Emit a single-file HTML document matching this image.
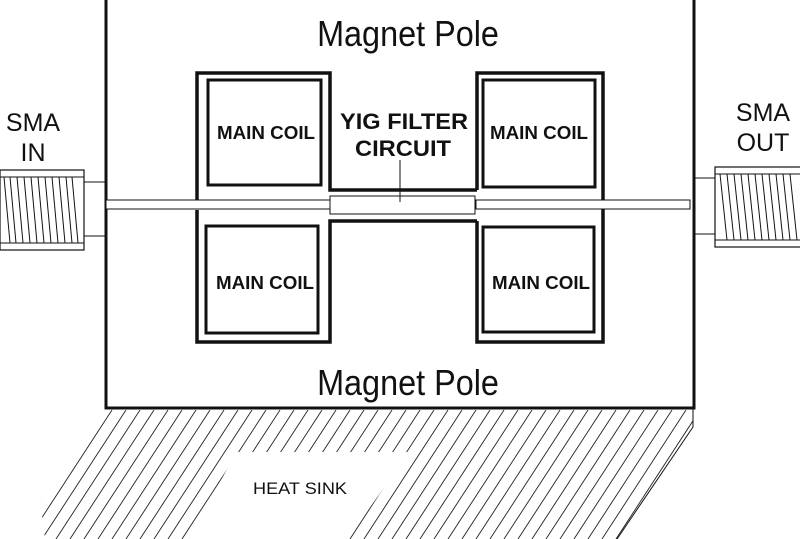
<!DOCTYPE html>
<html><head><meta charset="utf-8"><style>
html,body{margin:0;padding:0;background:#fff}
svg{display:block}
text{font-family:"Liberation Sans",sans-serif;fill:#111}
</style></head><body>
<svg width="800" height="539" viewBox="0 0 800 539" xmlns="http://www.w3.org/2000/svg">
<defs>
<clipPath id="hc"><polygon points="106,410 693,410 693,427 617,539 45,539 40,500"/></clipPath>
</defs>
<g stroke="#111" fill="none">
<polyline points="106,0 106,408 694,408 694,0" stroke-width="3"/>
<polyline points="197,200 197,73 330,73 330,190 477,190" stroke-width="3.5"/>
<polyline points="197,210 197,342 330,342 330,221 477,221" stroke-width="3.5"/>
<polyline points="477,190 477,73 603,73 603,200" stroke-width="3.5"/>
<polyline points="477,221 477,342 603,342 603,209" stroke-width="3.5"/>
<rect x="208" y="80" width="113" height="105" stroke-width="3"/>
<rect x="206" y="226" width="112" height="107" stroke-width="3"/>
<rect x="483" y="80" width="112" height="107" stroke-width="3"/>
<rect x="483" y="227" width="111" height="105" stroke-width="3"/>
<rect x="106" y="200" width="224" height="9" stroke-width="1" fill="#fff"/>
<rect x="330" y="196" width="145" height="18" stroke-width="1" fill="#fff"/>
<rect x="476" y="200" width="214" height="9" stroke-width="1" fill="#fff"/>
<line x1="400" y1="160" x2="400" y2="202" stroke-width="1"/>
<rect x="0" y="170" width="84" height="80" stroke-width="1.2"/>
<line x1="0" y1="177" x2="84" y2="177" stroke-width="1"/>
<line x1="0" y1="243" x2="84" y2="243" stroke-width="1"/>
<line x1="84" y1="182" x2="106" y2="182" stroke-width="1"/>
<line x1="84" y1="236" x2="106" y2="236" stroke-width="1"/>
<g stroke-width="1">
<line x1="4" y1="177" x2="10" y2="243"/><line x1="10" y1="177" x2="16" y2="243"/><line x1="17" y1="177" x2="23" y2="243"/><line x1="24" y1="177" x2="30" y2="243"/><line x1="31" y1="177" x2="37" y2="243"/><line x1="38" y1="177" x2="44" y2="243"/><line x1="45" y1="177" x2="51" y2="243"/><line x1="52" y1="177" x2="58" y2="243"/><line x1="59" y1="177" x2="65" y2="243"/><line x1="66" y1="177" x2="72" y2="243"/><line x1="72" y1="177" x2="78" y2="243"/>
</g>
<rect x="715" y="167" width="90" height="80" stroke-width="1.2"/>
<line x1="715" y1="174" x2="800" y2="174" stroke-width="1"/>
<line x1="715" y1="240" x2="800" y2="240" stroke-width="1"/>
<line x1="694" y1="178" x2="715" y2="178" stroke-width="1"/>
<line x1="694" y1="234" x2="715" y2="234" stroke-width="1"/>
<g stroke-width="1">
<line x1="720" y1="174" x2="727" y2="240"/><line x1="727" y1="174" x2="734" y2="240"/><line x1="734" y1="174" x2="741" y2="240"/><line x1="741" y1="174" x2="748" y2="240"/><line x1="748" y1="174" x2="755" y2="240"/><line x1="755" y1="174" x2="762" y2="240"/><line x1="762" y1="174" x2="769" y2="240"/><line x1="769" y1="174" x2="776" y2="240"/><line x1="776" y1="174" x2="783" y2="240"/><line x1="783" y1="174" x2="790" y2="240"/><line x1="790" y1="174" x2="797" y2="240"/>
</g>
<polyline points="693,409 693,427 617,539" stroke-width="1"/>
</g>
<g clip-path="url(#hc)" stroke="#222" stroke-width="0.9">
<line x1="0" y1="539" x2="84" y2="410"/><line x1="14" y1="539" x2="98" y2="410"/><line x1="28" y1="539" x2="112" y2="410"/><line x1="42" y1="539" x2="126" y2="410"/><line x1="56" y1="539" x2="140" y2="410"/><line x1="70" y1="539" x2="154" y2="410"/><line x1="84" y1="539" x2="168" y2="410"/><line x1="98" y1="539" x2="182" y2="410"/><line x1="112" y1="539" x2="196" y2="410"/><line x1="126" y1="539" x2="210" y2="410"/><line x1="140" y1="539" x2="224" y2="410"/><line x1="154" y1="539" x2="238" y2="410"/><line x1="168" y1="539" x2="252" y2="410"/><line x1="182" y1="539" x2="266" y2="410"/><line x1="196" y1="539" x2="280" y2="410"/><line x1="210" y1="539" x2="294" y2="410"/><line x1="224" y1="539" x2="308" y2="410"/><line x1="238" y1="539" x2="322" y2="410"/><line x1="252" y1="539" x2="336" y2="410"/><line x1="266" y1="539" x2="350" y2="410"/><line x1="280" y1="539" x2="364" y2="410"/><line x1="294" y1="539" x2="378" y2="410"/><line x1="308" y1="539" x2="392" y2="410"/><line x1="322" y1="539" x2="406" y2="410"/><line x1="336" y1="539" x2="420" y2="410"/><line x1="350" y1="539" x2="434" y2="410"/><line x1="364" y1="539" x2="448" y2="410"/><line x1="378" y1="539" x2="462" y2="410"/><line x1="392" y1="539" x2="476" y2="410"/><line x1="406" y1="539" x2="490" y2="410"/><line x1="420" y1="539" x2="504" y2="410"/><line x1="434" y1="539" x2="518" y2="410"/><line x1="448" y1="539" x2="532" y2="410"/><line x1="462" y1="539" x2="546" y2="410"/><line x1="476" y1="539" x2="560" y2="410"/><line x1="490" y1="539" x2="574" y2="410"/><line x1="504" y1="539" x2="588" y2="410"/><line x1="518" y1="539" x2="602" y2="410"/><line x1="532" y1="539" x2="616" y2="410"/><line x1="546" y1="539" x2="630" y2="410"/><line x1="560" y1="539" x2="644" y2="410"/><line x1="574" y1="539" x2="658" y2="410"/><line x1="588" y1="539" x2="672" y2="410"/><line x1="602" y1="539" x2="686" y2="410"/><line x1="616" y1="539" x2="700" y2="410"/>
</g>
<polygon points="236,452 410,452 347,539 190,539" fill="#fff"/>
<text x="408" y="46" font-size="36" text-anchor="middle" transform="translate(408 0) scale(0.9 1) translate(-408 0)">Magnet Pole</text>
<text x="408" y="395" font-size="36" text-anchor="middle" transform="translate(408 0) scale(0.9 1) translate(-408 0)">Magnet Pole</text>
<g font-size="18" font-weight="bold">
<text x="217" y="139" textLength="98" lengthAdjust="spacingAndGlyphs">MAIN COIL</text>
<text x="216" y="289" textLength="98" lengthAdjust="spacingAndGlyphs">MAIN COIL</text>
<text x="490" y="139" textLength="98" lengthAdjust="spacingAndGlyphs">MAIN COIL</text>
<text x="492" y="289" textLength="98" lengthAdjust="spacingAndGlyphs">MAIN COIL</text>
</g>
<g font-size="22" font-weight="bold">
<text x="340" y="129" textLength="128" lengthAdjust="spacingAndGlyphs">YIG FILTER</text>
<text x="355" y="156" textLength="96" lengthAdjust="spacingAndGlyphs">CIRCUIT</text>
</g>
<g font-size="25" text-anchor="middle">
<text x="33" y="131">SMA</text>
<text x="33" y="161">IN</text>
<text x="763" y="121">SMA</text>
<text x="763" y="151">OUT</text>
</g>
<text x="253" y="494" font-size="17" textLength="94" lengthAdjust="spacingAndGlyphs">HEAT SINK</text>
</svg>
</body></html>
